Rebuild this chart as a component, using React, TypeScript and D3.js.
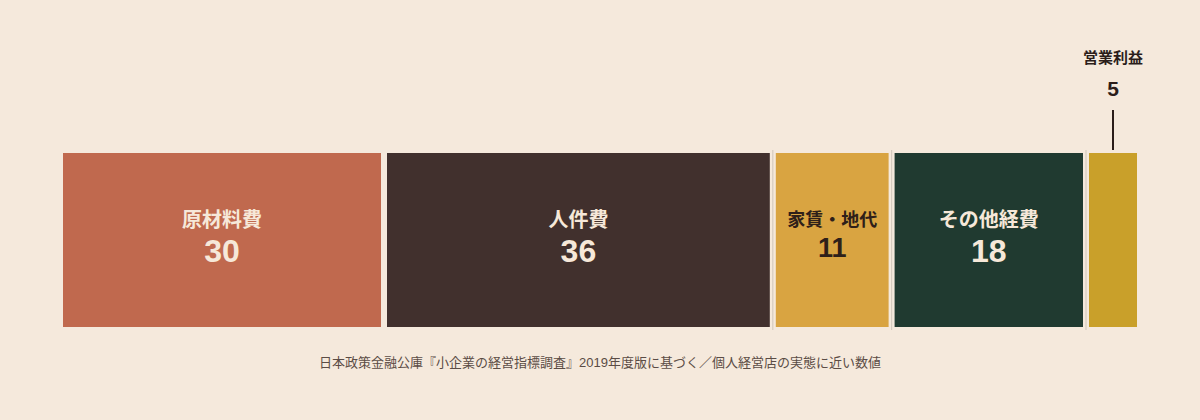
import React, { useEffect, useRef } from 'react';
import * as d3 from 'd3';

const categories = ["原材料費", "人件費", "家賃・地代", "その他経費", "営業利益"];
const values = [30, 36, 11, 18, 5];
const fills = ["#c0694e", "#41302d", "#d9a441", "#203a30", "#c9a02a"];
const inks = ["#f6e8d9", "#f6e8d9", "#2e2019", "#f6e8d9", "#2e2019"];
const caption = "日本政策金融公庫『小企業の経営指標調査』2019年度版に基づく／個人経営店の実態に近い数値";

const W = 1200;
const H = 420;
const JP = "'Liberation Sans', 'Noto Sans CJK JP', sans-serif";

const App: React.FC = () => {
    const ref = useRef<SVGSVGElement>(null);

    useEffect(() => {
        document.body.style.margin = "0";
        if (!ref.current) return;
        const svg = d3.select(ref.current);
        svg.selectAll("*").remove();

        svg.append("rect").attr("width", W).attr("height", H).attr("fill", "#f5e9dc");

        const x = d3.scaleLinear().domain([0, d3.sum(values)]).range([60, 1140]);
        const y = d3.scaleBand().domain(["cost"]).range([153, 327]).padding(0);
        const gap = 3;

        // cumulative starts
        const starts: number[] = [];
        values.reduce((acc, v) => { starts.push(acc); return acc + v; }, 0);

        const segs = svg.selectAll(".seg")
            .data(values.map((v, i) => ({ v, i, s: starts[i] })))
            .enter()
            .append("g")
            .attr("class", "seg");

        segs.append("rect")
            .attr("x", d => x(d.s) + gap)
            .attr("y", y("cost")!)
            .attr("width", d => x(d.s + d.v) - x(d.s) - gap * 2)
            .attr("height", y.bandwidth())
            .attr("fill", d => fills[d.i]);

        // thin separators
        starts.slice(2).forEach(s => {
            svg.append("line")
                .attr("x1", x(s)).attr("x2", x(s))
                .attr("y1", y("cost")! - 3).attr("y2", y("cost")! + y.bandwidth() + 3)
                .attr("stroke", "#d6cbbf")
                .attr("stroke-width", 1.2);
        });

        const cy = y("cost")! + y.bandwidth() / 2;
        const inside = segs.filter(d => d.i < values.length - 1);
        inside.append("text")
            .attr("x", d => x(d.s + d.v / 2))
            .attr("y", cy - 20)
            .attr("text-anchor", "middle")
            .attr("dominant-baseline", "central")
            .style("font-family", JP)
            .style("font-weight", "bold")
            .style("font-size", d => d.v < 15 ? "18px" : "20px")
            .attr("fill", d => inks[d.i])
            .text(d => categories[d.i]);
        inside.append("text")
            .attr("x", d => x(d.s + d.v / 2))
            .attr("y", d => d.v < 15 ? cy + 8 : cy + 11)
            .attr("text-anchor", "middle")
            .attr("dominant-baseline", "central")
            .style("font-family", JP)
            .style("font-weight", "bold")
            .style("font-size", d => d.v < 15 ? "27px" : "32px")
            .attr("fill", d => inks[d.i])
            .text(d => String(d.v));

        // callout for the last slice
        const li = values.length - 1;
        const lx = x(starts[li] + values[li] / 2);
        svg.append("line")
            .attr("x1", lx).attr("x2", lx)
            .attr("y1", 110).attr("y2", 150)
            .attr("stroke", "#2b1d1a")
            .attr("stroke-width", 2);
        svg.append("text")
            .attr("x", lx).attr("y", 88)
            .attr("text-anchor", "middle")
            .attr("dominant-baseline", "central")
            .style("font-family", JP)
            .style("font-weight", "bold")
            .style("font-size", "21px")
            .attr("fill", "#2b1d1a")
            .text(String(values[li]));
        svg.append("text")
            .attr("x", lx).attr("y", 57)
            .attr("text-anchor", "middle")
            .attr("dominant-baseline", "central")
            .style("font-family", JP)
            .style("font-weight", "bold")
            .style("font-size", "15px")
            .attr("fill", "#2b1d1a")
            .text(categories[li]);

        svg.append("text")
            .attr("x", W / 2).attr("y", 362)
            .attr("text-anchor", "middle")
            .attr("dominant-baseline", "central")
            .style("font-family", JP)
            .style("font-size", "13px")
            .attr("fill", "#5b4c45")
            .text(caption);
    }, []);

    return <svg ref={ref} width={W} height={H} style={{ display: "block" }} />;
};

export default App;
